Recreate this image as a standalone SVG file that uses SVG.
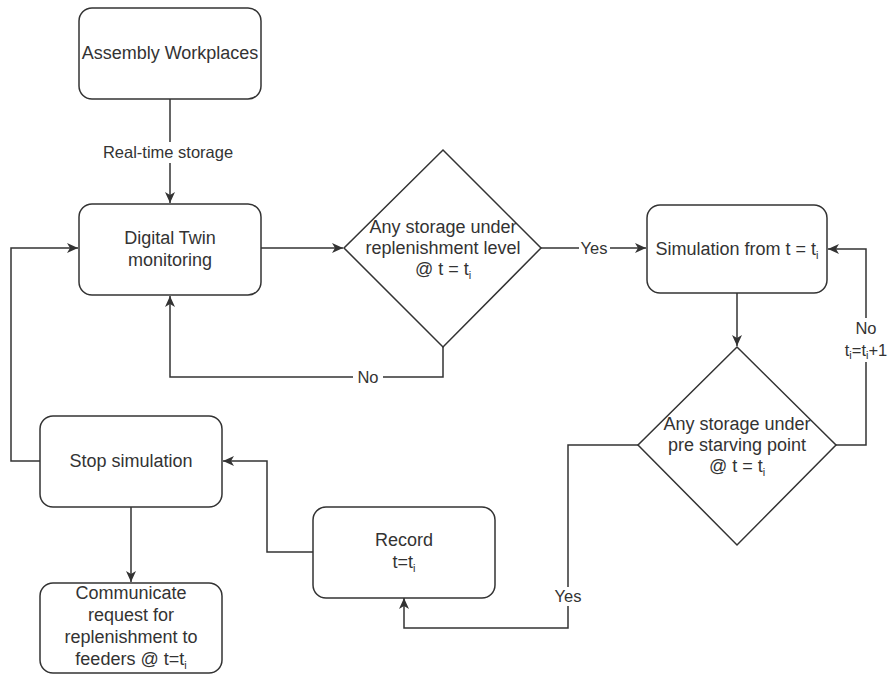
<svg xmlns="http://www.w3.org/2000/svg" width="888" height="674" viewBox="0 0 888 674">
  <style>
    .box { fill: #ffffff; stroke: #333333; stroke-width: 1.5; }
    .edge { fill: none; stroke: #333333; stroke-width: 1.5; }
    .t { font-family: "Liberation Sans", Arial, sans-serif; font-size: 18px; fill: #333333; text-anchor: middle; }
    .lbl { font-family: "Liberation Sans", Arial, sans-serif; font-size: 16.5px; fill: #333333; text-anchor: middle; }
    .sub { font-size: 11px; fill: #333333; }
    .bg { fill: #ffffff; stroke: none; }
  </style>
  <defs>
    <marker id="arrow" markerUnits="userSpaceOnUse" markerWidth="12" markerHeight="10" refX="11" refY="5" orient="auto">
      <path d="M0,0 L11,5 L0,10 L3,5 Z" fill="#333333"/>
    </marker>
  </defs>
  <rect width="888" height="674" fill="#ffffff"/>

  <!-- connectors -->
  <g id="connectors">
    <path class="edge" d="M170,99 V203" marker-end="url(#arrow)"/>
    <path class="edge" d="M261,248 H343" marker-end="url(#arrow)"/>
    <path class="edge" d="M541,248 H646" marker-end="url(#arrow)"/>
    <path class="edge" d="M443,347 V377 H170 V296" marker-end="url(#arrow)"/>
    <path class="edge" d="M737,293 V346" marker-end="url(#arrow)"/>
    <path class="edge" d="M836,445 H866 V249 H828" marker-end="url(#arrow)"/>
    <path class="edge" d="M638,445 H568 V628 H404 V598" marker-end="url(#arrow)"/>
    <path class="edge" d="M313,552 H267 V461 H223" marker-end="url(#arrow)"/>
    <path class="edge" d="M40,461 H11 V248 H78" marker-end="url(#arrow)"/>
    <path class="edge" d="M131,507 V582" marker-end="url(#arrow)"/>

    <!-- edge labels -->
    <rect class="bg" x="100" y="142" width="136" height="21"/>
    <text class="lbl" x="168" y="158">Real-time storage</text>
    <rect class="bg" x="579" y="239" width="31" height="19"/>
    <text class="lbl" x="594" y="254">Yes</text>
    <rect class="bg" x="353" y="368" width="30" height="18"/>
    <text class="lbl" x="368" y="383">No</text>
    <rect class="bg" x="842" y="318" width="46" height="44"/>
    <text class="lbl" x="866" y="334">No</text>
    <text class="lbl" x="866" y="356">t<tspan class="sub" dy="3">i</tspan><tspan dy="-3">=t</tspan><tspan class="sub" dy="3">i</tspan><tspan dy="-3">+1</tspan></text>
    <rect class="bg" x="551" y="587" width="34" height="19"/>
    <text class="lbl" x="568" y="602">Yes</text>
  </g>

  <!-- nodes -->
  <g id="assembly">
    <rect class="box" x="79" y="8" width="182" height="91" rx="13"/>
    <text class="t" x="170" y="59">Assembly Workplaces</text>
  </g>
  <g id="digital-twin">
    <rect class="box" x="79" y="204" width="182" height="91" rx="13"/>
    <text class="t" x="170" y="244">Digital Twin</text>
    <text class="t" x="170" y="266">monitoring</text>
  </g>
  <g id="decision-replenishment">
    <polygon class="box" points="443,150 541,248 443,347 344,248"/>
    <text class="t" x="443" y="233">Any storage under</text>
    <text class="t" x="443" y="254">replenishment level</text>
    <text class="t" x="443" y="275">@ t = t<tspan class="sub" dy="4">i</tspan></text>
  </g>
  <g id="simulation">
    <rect class="box" x="647" y="205" width="180" height="88" rx="13"/>
    <text class="t" x="737" y="255">Simulation from t = t<tspan class="sub" dy="4">i</tspan></text>
  </g>
  <g id="decision-starving">
    <polygon class="box" points="737,347 836,445 737,545 638,445"/>
    <text class="t" x="737" y="430">Any storage under</text>
    <text class="t" x="737" y="451">pre starving point</text>
    <text class="t" x="737" y="472">@ t = t<tspan class="sub" dy="4">i</tspan></text>
  </g>
  <g id="record">
    <rect class="box" x="313" y="507" width="182" height="91" rx="13"/>
    <text class="t" x="404" y="546">Record</text>
    <text class="t" x="404" y="568">t=t<tspan class="sub" dy="4">i</tspan></text>
  </g>
  <g id="stop-simulation">
    <rect class="box" x="40" y="416" width="182" height="91" rx="13"/>
    <text class="t" x="131" y="467">Stop simulation</text>
  </g>
  <g id="communicate">
    <rect class="box" x="40" y="583" width="182" height="90" rx="13"/>
    <text class="t" x="131" y="599">Communicate</text>
    <text class="t" x="131" y="621">request for</text>
    <text class="t" x="131" y="643">replenishment to</text>
    <text class="t" x="131" y="665">feeders @ t=t<tspan class="sub" dy="4">i</tspan></text>
  </g>
</svg>
